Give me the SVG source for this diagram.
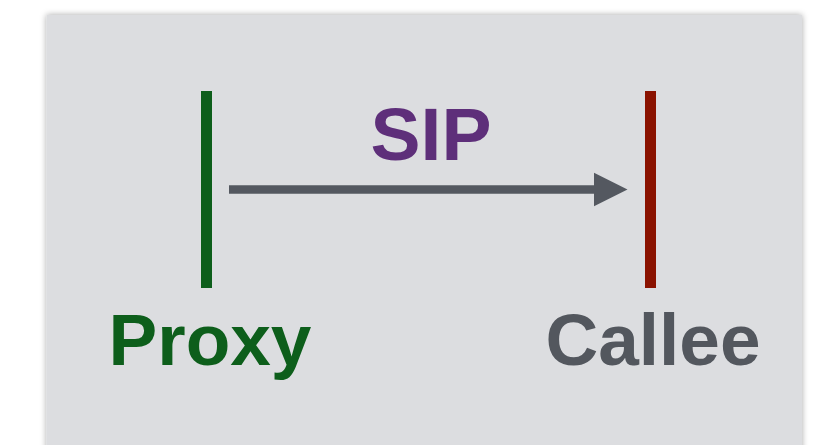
<svg xmlns="http://www.w3.org/2000/svg" width="815" height="445" viewBox="0 0 815 445">
<style>
.lbl{font-family:"Liberation Sans",Arial,sans-serif;font-weight:bold;text-anchor:middle}
</style>
<defs>
<filter id="sh" x="-5%" y="-5%" width="110%" height="110%">
<feDropShadow dx="0" dy="0" stdDeviation="3" flood-color="#000" flood-opacity="0.35"/>
</filter>
<marker id="ah" markerUnits="userSpaceOnUse" markerWidth="36" markerHeight="36" refX="1" refY="17" orient="auto" viewBox="0 0 36 34">
<path d="M0,0 L34,17 L0,34 Z" fill="#545860"/>
</marker>
</defs>
<rect x="46.5" y="15" width="755.5" height="460" fill="#dcdde0" filter="url(#sh)"/>
<g id="proxy">
<rect x="201" y="91" width="11" height="197" fill="#0d5e1b"/>
<text class="lbl" x="210" y="365" font-size="73" fill="#0d5e1b">Proxy</text>
</g>
<g id="callee">
<rect x="645" y="91" width="11" height="197" fill="#8a1200"/>
<text class="lbl" x="653" y="365" font-size="73" fill="#53575e">Callee</text>
</g>
<g id="connectors">
<line x1="229" y1="189.5" x2="594.5" y2="189.5" stroke="#545860" stroke-width="8.5" marker-end="url(#ah)"/>
<text class="lbl" x="431" y="160" font-size="75" fill="#5e2f7a">SIP</text>
</g>
</svg>
